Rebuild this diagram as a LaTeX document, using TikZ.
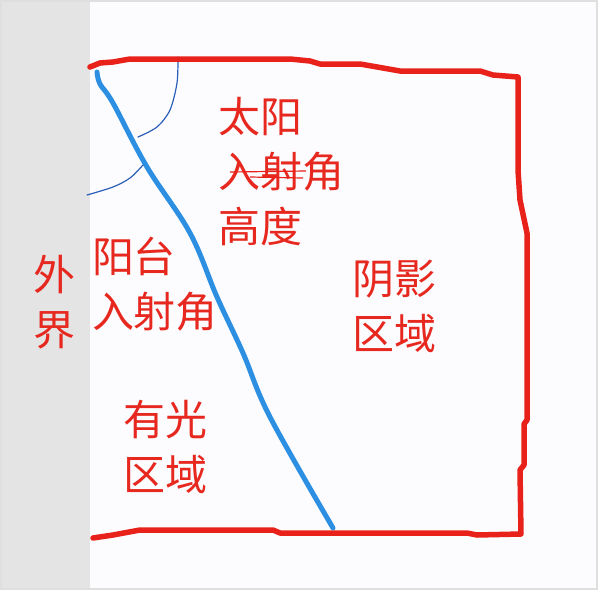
\documentclass[tikz,border=0pt]{standalone}
\usepackage{fontspec}
\newfontfamily\cjk{Noto Sans CJK SC}
\definecolor{penred}{HTML}{E8221B}
\definecolor{pentext}{HTML}{E6281F}
\definecolor{penblue}{HTML}{2D8FE2}
\definecolor{thinblue}{HTML}{2B5FB8}
\definecolor{outside}{HTML}{E4E4E5}
\begin{document}
\begin{tikzpicture}[x=1pt,y=-1pt,
    redpen/.style={draw=penred,line width=5.5pt,line cap=round,line join=round},
    bluepen/.style={draw=penblue,line width=5pt,line cap=round,line join=round},
    arcpen/.style={draw=thinblue,line width=1.2pt,line cap=round},
    label/.style={text=pentext,font=\cjk\fontsize{42}{55}\selectfont,align=left,inner sep=0pt}]
        \useasboundingbox (0,0) rectangle (598,590);
        \fill[white!99!blue] (0,0) rectangle (598,590);
        \fill[outside] (0,0) rectangle (90,590);
        \draw[gray!25,line width=1.5pt] (1,1) rectangle (597,589);

        % light and shadow boundary
        \draw[bluepen] plot[smooth,tension=0.6] coordinates {(97,72) (100,84) (113,103) (147,167)
            (190,233) (217,297) (243,353) (270,417) (333,528)};
        \draw[arcpen] plot[smooth] coordinates {(178,57) (177,83) (170,110) (157,127) (138,137)};
        \draw[arcpen] plot[smooth] coordinates {(143,165) (130,178) (113,187) (87,195)};

        % room outline
        \draw[redpen] (90,67)--(100,63)--(113,62)--(130,59)--(290,59)--(310,61)--(320,64)--(360,64)--(400,71)
            --(480,71)--(493,75)--(518,77)--(518,170)--(520,200)--(527,233)--(527,420)--(524,424)--(524,465)
            --(520,470)--(521,534)--(477,535)--(467,533)--(280,533)--(273,530)--(140,530)--(113,535)--(93,538);

        \node[label] (outer) at (54,302) {外\\界};
        \node[label] (sun) at (281,172) {太阳\\入射角\\高度};
        \node[label] (balcony) at (155,284) {阳台\\入射角};
        \node[label] (lit) at (165,447) {有光\\区域};
        \node[label] (shade) at (394,306) {阴影\\区域};

        \draw[penred,line width=1.2pt] (230,172)--(306,171);
        \draw[penred,line width=1.2pt] (250,177)--(303,178);
\end{tikzpicture}
\end{document}
